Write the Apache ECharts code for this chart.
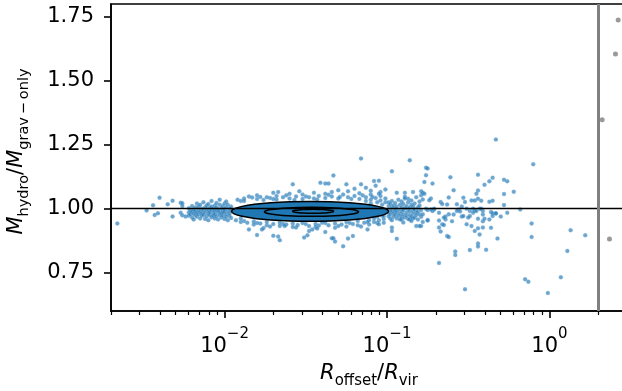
<!DOCTYPE html>
<html>
<head>
<meta charset="utf-8">
<script src="https://cdn.jsdelivr.net/npm/echarts@6/dist/echarts.min.js"></script>
<style>
  html, body { margin: 0; padding: 0; background: #fff; }
  #chart { width: 622px; height: 391px; }
</style>
</head>
<body>
<div id="chart"></div>
<script>
// points are [log10(R_offset/R_vir), M_hydro/M_grav-only]
const farLeft = [
  [-2.66,0.942],[-2.48,0.993],[-2.44,1.013],[-2.40,1.043],[-2.43,0.975],[-2.41,0.982],
  [-2.35,1.017],[-2.32,1.031],[-2.32,0.969],[-2.27,1.023],[-2.26,1.021],[-2.26,1.010],
  [-2.27,0.984],[-2.26,0.974],[-2.24,0.969]
];

const leftBand = [
  [-2.22,0.985],[-2.22,0.972],[-2.22,1.002],[-2.21,0.992],[-2.21,0.978],[-2.20,1.010],[-2.20,0.965],[-2.20,0.988],
  [-2.19,0.996],[-2.19,0.980],[-2.19,0.958],[-2.18,1.005],[-2.18,0.975],[-2.18,0.990],[-2.17,1.020],[-2.17,0.985],
  [-2.17,0.968],[-2.16,0.995],[-2.16,0.978],[-2.16,1.008],[-2.15,0.988],[-2.15,0.962],[-2.15,1.015],[-2.14,1.000],
  [-2.14,0.982],[-2.14,0.972],[-2.13,1.025],[-2.13,0.993],[-2.13,0.976],[-2.12,0.985],[-2.12,1.005],[-2.12,0.960],
  [-2.11,0.998],[-2.11,0.970],[-2.11,1.012],[-2.10,0.990],[-2.10,0.980],[-2.10,1.018],[-2.10,0.955],[-2.09,1.003],
  [-2.09,0.975],[-2.09,0.987],[-2.08,0.995],[-2.08,0.966],[-2.08,1.030],[-2.08,1.008],[-2.07,0.983],[-2.07,0.972],
  [-2.07,1.000],[-2.06,1.012],[-2.06,0.990],[-2.06,0.962],[-2.06,0.978],[-2.05,0.995],[-2.05,0.970],[-2.05,1.022],
  [-2.05,1.005],[-2.04,0.985],[-2.04,0.958],[-2.04,0.998],[-2.03,1.015],[-2.03,0.975],[-2.03,0.990],[-2.03,1.035],
  [-2.02,0.980],[-2.02,1.002],[-2.02,0.965],[-2.01,0.993],[-2.01,1.010],[-2.01,0.972],[-2.01,0.985],[-2.00,1.020],
  [-2.00,0.988],[-2.00,0.960],[-2.00,0.998],[-1.99,0.978],[-1.99,1.005],[-1.99,0.968],[-1.99,1.028],[-1.98,0.990],
  [-1.98,0.955],[-1.98,1.015],[-1.97,0.982],[-1.97,1.000],[-1.97,0.972],[-1.96,1.008],[-1.96,0.964],[-1.96,0.992]
];

// mostly hidden under the density contours
const coreBand = [
  [-1.90,0.985],[-1.85,0.995],[-1.80,0.975],[-1.75,1.005],[-1.70,0.965],[-1.66,0.990],[-1.62,1.012],[-1.58,0.978],
  [-1.55,0.998],[-1.50,0.985],[-1.47,0.992],[-1.44,0.970],[-1.40,1.008],[-1.36,0.982],[-1.32,0.995],[-1.28,0.962],
  [-1.24,1.015],[-1.20,0.988],[-1.16,0.975],[-1.12,1.002],[-1.10,0.975],[-1.10,1.020],[-1.06,0.968],[-1.06,1.025],
  [-1.03,0.972],[-1.03,1.015],[-1.03,0.985]
];

const bandEdges = [
  [-1.92,1.035],[-1.88,1.040],[-1.88,1.030],[-1.85,1.048],[-1.80,1.038],[-1.80,1.052],[-1.76,1.034],[-1.72,1.042],
  [-1.68,1.050],[-1.68,1.036],[-1.64,1.045],[-1.60,1.058],[-1.60,1.040],[-1.56,1.048],[-1.52,1.055],[-1.52,1.038],
  [-1.48,1.045],[-1.45,1.062],[-1.45,1.040],[-1.42,1.050],[-1.38,1.058],[-1.38,1.042],[-1.34,1.048],[-1.34,1.065],
  [-1.30,1.040],[-1.30,1.072],[-1.27,1.055],[-1.24,1.045],[-1.24,1.068],[-1.20,1.050],[-1.20,1.078],[-1.17,1.038],
  [-1.17,1.060],[-1.13,1.045],[-1.13,1.082],[-1.13,1.030],[-1.10,1.055],[-1.10,1.035],[-1.10,1.070],[-1.07,1.042],
  [-1.07,1.090],[-1.04,1.050],[-1.04,1.032],[-1.04,1.065],[-1.01,1.040],[-1.01,1.075],[-1.01,1.025],
  [-1.93,0.955],[-1.90,0.948],[-1.90,0.962],[-1.86,0.945],[-1.82,0.950],[-1.82,0.938],[-1.78,0.942],[-1.74,0.935],
  [-1.74,0.948],[-1.70,0.940],[-1.66,0.945],[-1.66,0.932],[-1.62,0.938],[-1.58,0.942],[-1.58,0.928],[-1.55,0.936],
  [-1.52,0.944],[-1.48,0.932],[-1.44,0.940],[-1.44,0.928],[-1.40,0.945],[-1.36,0.935],[-1.32,0.942],[-1.32,0.925],
  [-1.28,0.938],[-1.25,0.930],[-1.25,0.948],[-1.21,0.940],[-1.18,0.935],[-1.18,0.952],[-1.14,0.945],[-1.11,0.938],
  [-1.11,0.955],[-1.08,0.948],[-1.08,0.962],[-1.05,0.955],[-1.02,0.960],[-1.02,0.945],[-1.02,0.972],
  [-1.90,1.030],[-1.83,1.044],[-1.78,1.046],[-1.70,1.038],[-1.62,1.052],[-1.57,1.034],[-1.50,1.048],[-1.43,1.036],
  [-1.36,1.054],[-1.29,1.046],[-1.22,1.038],[-1.15,1.052],[-1.09,1.046],[-1.05,1.058],
  [-1.88,0.952],[-1.80,0.944],[-1.72,0.930],[-1.64,0.940],[-1.56,0.926],[-1.50,0.940],[-1.42,0.934],[-1.38,0.944],
  [-1.30,0.932],[-1.23,0.944],[-1.16,0.930],[-1.12,0.948],[-1.06,0.944]
];

const midOutliers = [
  [-1.70,1.062],[-1.67,1.065],[-1.74,1.045],[-1.58,1.095],[-1.54,1.068],[-1.41,1.101],[-1.38,1.098],[-1.36,1.098],
  [-1.33,1.130],[-1.25,1.095],[-1.16,1.196],[-1.08,1.108],[-1.05,1.109],[-1.16,1.095],[-0.97,1.146],[-0.86,1.189],
  [-0.76,1.160],[-0.94,1.062],[-0.89,1.062],[-0.89,1.047],[-0.87,1.039],[-0.84,1.065],
  [-1.85,0.919],[-1.80,0.897],[-1.76,0.924],[-1.77,0.919],[-1.70,0.894],[-1.67,0.891],[-1.66,0.877],[-1.63,0.932],
  [-1.51,0.887],[-1.49,0.896],[-1.48,0.913],[-1.46,0.919],[-1.43,0.922],[-1.38,0.909],[-1.34,0.884],[-1.33,0.884],
  [-1.32,0.872],[-1.27,0.853],[-1.24,0.883],[-1.21,0.893],[-1.12,0.919],[-1.05,0.939],[-0.97,0.926],[-0.97,0.913],
  [-0.94,0.882],[-0.90,0.946],[-0.91,0.958],[-0.86,0.958],[-0.84,0.962],[-0.85,0.952],[-0.82,0.932],[-0.79,0.932],
  [-0.75,0.956],[-0.71,0.997],[-0.68,0.984]
];

const rightBand = [
  [-0.99,1.010],[-0.99,0.985],[-0.99,0.970],[-0.99,1.025],[-0.98,0.995],[-0.98,1.018],[-0.98,0.962],[-0.98,0.978],
  [-0.97,1.005],[-0.97,0.990],[-0.97,1.030],[-0.97,0.955],[-0.96,0.982],[-0.96,1.012],[-0.96,0.968],[-0.95,1.000],
  [-0.95,0.975],[-0.95,1.022],[-0.95,0.992],[-0.94,1.008],[-0.94,0.962],[-0.94,0.985],[-0.93,0.995],[-0.93,1.035],
  [-0.93,0.972],[-0.92,1.015],[-0.92,0.980],[-0.92,0.958],[-0.91,0.990],[-0.91,1.005],[-0.91,0.968],[-0.91,1.028],
  [-0.90,0.978],[-0.90,1.018],[-0.90,0.995],[-0.89,1.002],[-0.89,0.965],[-0.89,1.040],[-0.88,0.985],[-0.88,1.010],
  [-0.88,0.972],[-0.87,0.998],[-0.87,1.025],[-0.87,0.960],[-0.86,0.975],[-0.86,1.005],[-0.86,0.990],[-0.85,1.015],
  [-0.85,0.968],[-0.85,1.032],[-0.84,0.992],[-0.84,0.980],[-0.84,1.008],[-0.83,1.020],[-0.83,0.965],[-0.83,0.998],
  [-0.82,0.985],[-0.82,1.045],[-0.82,0.975],[-0.81,1.005],[-0.81,0.958],[-0.81,0.990],[-0.80,1.012],[-0.80,0.978],
  [-0.80,1.028],[-0.79,0.995],[-0.79,0.968],[-0.79,1.052]
];

const farRight = [
  [-0.33,1.270],[-0.10,1.174],[-0.75,1.157],[-0.76,1.131],[-0.77,1.104],[-0.72,1.098],[-0.61,1.123],[-0.44,1.133],
  [-0.37,1.107],[-0.35,1.121],[-0.28,1.113],[-0.26,1.107],[-0.40,1.093],[-0.22,1.066],[-0.28,1.057],[-0.59,1.072],
  [-0.44,1.071],[-0.45,1.058],[-0.79,1.068],[-0.78,1.062],[-0.77,1.058],[-0.78,1.036],[-0.73,1.040],[-0.74,1.033],
  [-0.62,1.044],[-0.53,1.043],[-0.52,1.026],[-0.48,1.032],[-0.46,1.032],[-0.44,1.039],[-0.42,1.031],[-0.37,1.027],
  [-0.35,1.031],[-0.28,1.014],[-0.18,0.997],[-0.26,0.984],[-0.36,0.987],[-0.35,0.982],[-0.33,0.981],[-0.30,0.969],
  [-0.41,0.991],[-0.41,0.977],[-0.43,1.000],[-0.42,1.000],[-0.47,1.000],[-0.46,0.993],[-0.45,0.991],[-0.49,0.991],
  [-0.51,1.000],[-0.54,1.008],[-0.56,0.997],[-0.57,0.991],[-0.59,0.977],[-0.55,0.989],[-0.54,0.969],[-0.53,0.971],
  [-0.49,0.971],[-0.50,0.965],[-0.47,0.984],[-0.44,0.961],[-0.41,0.951],[-0.40,0.961],[-0.37,0.958],[-0.35,0.971],
  [-0.33,0.982],[-0.62,0.978],[-0.64,0.969],[-0.64,0.958],[-0.65,0.965],[-0.60,0.951],[-0.66,0.939],[-0.65,0.936],
  [-0.68,0.954],[-0.68,0.926],[-0.67,0.911],[-0.75,0.954],[-0.72,0.991],[-0.73,0.997],[-0.71,1.000],[-0.76,1.000],
  [-0.75,0.995],[-0.78,0.978],[-0.80,0.932],[-0.78,0.948],[-0.57,1.017],[-0.63,1.016],[-0.67,1.026],[-0.66,1.018],
  [-0.51,0.939],[-0.48,0.932],[-0.44,0.923],[-0.41,0.926],[-0.36,0.925],[-0.46,0.913],[-0.43,0.899],[-0.32,0.883],
  [-0.63,0.893],[-0.62,0.889],[-0.44,0.864],[-0.44,0.852],[-0.39,0.839],[-0.49,0.838],[-0.58,0.833],[-0.58,0.819],
  [-0.68,0.788],[-0.52,0.685],[-0.11,0.942],[-0.11,0.889],[-0.15,0.724],[-0.13,0.714],[-0.01,0.670],[0.07,0.732],
  [0.11,0.835],[0.13,0.916],[0.22,0.896]
];

// haloes past the 2 R_vir cut, plain R_offset/R_vir
const beyondCut = [[2.647,1.737],[2.547,1.605],[2.11,1.348],[2.34,0.881]];

// density contours, [log10 R, ratio]
const outerContour = [
  [-0.991,0.9895],[-1.007,0.9996],[-1.056,1.009],[-1.1325,1.0171],[-1.2325,1.0233],[-1.349,1.0272],
  [-1.474,1.0285],[-1.599,1.0272],[-1.7155,1.0233],[-1.8155,1.0171],[-1.892,1.009],[-1.941,0.9996],
  [-1.957,0.9895],[-1.941,0.9794],[-1.892,0.970],[-1.8155,0.9619],[-1.7155,0.9557],[-1.599,0.9518],
  [-1.474,0.9505],[-1.349,0.9518],[-1.2325,0.9557],[-1.1325,0.9619],[-1.056,0.970],[-1.007,0.9794]
];
const middleContour = [
  [-1.175,0.9876],[-1.185,0.9921],[-1.214,0.9964],[-1.26,1.0000],[-1.32,1.0028],[-1.39,1.0045],
  [-1.465,1.0051],[-1.54,1.0045],[-1.61,1.0028],[-1.67,1.0000],[-1.716,0.9964],[-1.745,0.9921],
  [-1.755,0.9876],[-1.745,0.9831],[-1.716,0.9789],[-1.67,0.9752],[-1.61,0.9724],[-1.54,0.9707],
  [-1.465,0.9701],[-1.39,0.9707],[-1.32,0.9724],[-1.26,0.9752],[-1.214,0.9789],[-1.185,0.9831]
];
const innerContour = [
  [-1.329,0.9896],[-1.333,0.9916],[-1.346,0.9935],[-1.366,0.9951],[-1.392,0.9964],[-1.422,0.9971],
  [-1.455,0.9974],[-1.488,0.9971],[-1.518,0.9964],[-1.544,0.9951],[-1.564,0.9935],[-1.577,0.9916],
  [-1.581,0.9896],[-1.577,0.9876],[-1.564,0.9857],[-1.544,0.9841],[-1.518,0.9828],[-1.488,0.9821],
  [-1.455,0.9818],[-1.422,0.9821],[-1.392,0.9828],[-1.366,0.9841],[-1.346,0.9857],[-1.333,0.9876]
];

const yTicks = [0.75, 1.0, 1.25, 1.5, 1.75];
const xMajorTicks = [0.01, 0.1, 1];
const xMinorTicks = [0.002,0.003,0.004,0.005,0.006,0.007,0.008,0.009,
  0.02,0.03,0.04,0.05,0.06,0.07,0.08,0.09,
  0.2,0.3,0.4,0.5,0.6,0.7,0.8,0.9,2,3];

const FONT = 'DejaVu Sans';
const toR = p => [Math.pow(10, p[0]), p[1]];
const haloes = [].concat(farLeft, leftBand, coreBand, bandEdges, midOutliers, rightBand, farRight).map(toR);
const contours = [outerContour, middleContour, innerContour].map(c => c.map(toR));

const chart = echarts.init(document.getElementById('chart'), null, { renderer: 'canvas' });

chart.setOption({
  animation: false,
  backgroundColor: '#fff',
  grid: {
    left: 111, right: -5, top: 4, bottom: 80,
    outerBoundsMode: 'none',
    show: true, borderColor: '#000', borderWidth: 1.6, backgroundColor: 'transparent'
  },
  xAxis: [
    {
      type: 'log', logBase: 10, min: 0.002, max: 3,
      position: 'bottom',
      axisLine: { show: true, lineStyle: { color: '#000', width: 1.6 } },
      axisTick: { show: true, customValues: xMajorTicks, length: 7, lineStyle: { color: '#000', width: 1.6 } },
      axisLabel: {
        customValues: xMajorTicks, margin: 16,
        formatter: v => '{b|10}{s|' + String(Math.round(Math.log10(v))).replace('-', '\u2212') + '}',
        rich: {
          b: { fontFamily: FONT, fontSize: 21, color: '#000', lineHeight: 40 },
          s: { fontFamily: FONT, fontSize: 15, color: '#000', lineHeight: 16, verticalAlign: 'top' }
        }
      },
      splitLine: { show: false },
      name: '{i|R}{sub|offset}{n|/}{i|R}{sub|vir}',
      nameLocation: 'middle', nameGap: 48,
      nameTextStyle: {
        rich: {
          i: { fontFamily: FONT, fontStyle: 'italic', fontSize: 21, color: '#000', lineHeight: 30 },
          n: { fontFamily: FONT, fontSize: 21, color: '#000', lineHeight: 30 },
          sub: { fontFamily: FONT, fontSize: 15, color: '#000', lineHeight: 15, verticalAlign: 'bottom' }
        }
      }
    },
    {
      type: 'log', logBase: 10, min: 0.002, max: 3,
      position: 'bottom', offset: 0,
      axisLine: { show: false },
      axisTick: { show: true, customValues: xMinorTicks, length: 4, lineStyle: { color: '#000', width: 1.2 } },
      axisLabel: { show: false },
      splitLine: { show: false }
    }
  ],
  yAxis: {
    type: 'value', min: 0.6, max: 1.8,
    axisLine: { show: true, lineStyle: { color: '#000', width: 1.6 } },
    axisTick: { show: true, customValues: yTicks, length: 7, lineStyle: { color: '#000', width: 1.6 } },
    axisLabel: {
      customValues: yTicks, margin: 17,
      fontFamily: FONT, fontSize: 21, color: '#000',
      formatter: v => v.toFixed(2)
    },
    splitLine: { show: false },
    name: '{i|M}{sub|hydro}{n|/}{i|M}{sub|grav\u2009\u2212\u2009only}',
    nameLocation: 'middle', nameRotate: 90, nameGap: 79,
    nameTextStyle: {
      padding: [0, 0, 0, 12],
      rich: {
        i: { fontFamily: FONT, fontStyle: 'italic', fontSize: 21, color: '#000', lineHeight: 30 },
        n: { fontFamily: FONT, fontSize: 21, color: '#000', lineHeight: 30 },
        sub: { fontFamily: FONT, fontSize: 14.5, color: '#000', lineHeight: 15, verticalAlign: 'bottom' }
      }
    }
  },
  series: [
    {
      type: 'scatter',
      z: 2,
      data: haloes,
      symbol: 'circle',
      symbolSize: 4,
      itemStyle: { color: 'rgba(31,119,180,0.82)', borderColor: 'rgba(130,180,220,0.7)', borderWidth: 0.6 },
      markLine: {
        silent: true, symbol: 'none', label: { show: false },
        data: [{ yAxis: 1, lineStyle: { color: '#000', width: 1.3, type: 'solid' } }]
      }
    },
    {
      type: 'custom',
      z: 3,
      data: contours.map(c => c[0]),
      renderItem: (params, api) => {
        const pts = contours[params.dataIndex].map(p => api.coord(p));
        return {
          type: 'polygon',
          shape: { points: pts, smooth: 0.3 },
          style: { fill: '#1f77b4', stroke: '#000', lineWidth: 1.5 }
        };
      }
    },
    {
      type: 'scatter',
      z: 4,
      data: beyondCut,
      symbol: 'circle',
      symbolSize: 5,
      itemStyle: { color: '#7f7f7f' },
      markLine: {
        silent: true, symbol: 'none', label: { show: false },
        data: [{ xAxis: 2, lineStyle: { color: '#808080', width: 3, type: 'solid' } }]
      }
    }
  ]
});
</script>
</body>
</html>
